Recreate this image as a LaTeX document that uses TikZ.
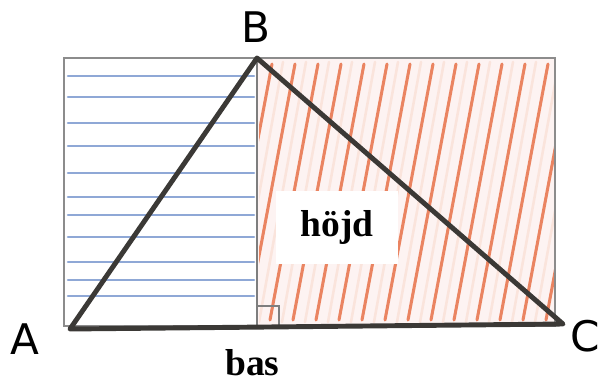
\documentclass[tikz,border=0pt]{standalone}
\usepackage{fontspec}
\setmainfont{Liberation Serif}
\newfontfamily\handfont{DejaVu Sans}
\usetikzlibrary{calc}
\definecolor{pencilgray}{HTML}{8C8C8C}
\definecolor{inkdark}{HTML}{3B3936}
\definecolor{hatchred}{HTML}{EA8461}
\definecolor{hatchblue}{HTML}{7392CC}
\definecolor{paperpink}{HTML}{FDF3F2}
\tikzset{
    side/.style={draw=inkdark, line width=4.2pt, line join=round},
    frame/.style={draw=pencilgray, line width=1.3pt},
    altitude/.style={draw=pencilgray!90!black, line width=2.4pt},
    redhatch/.style={draw=hatchred, line width=2.6pt, line cap=round},
    pinkhatch/.style={draw=hatchred!22, line width=2.2pt, line cap=round},
    bluehatch/.style={draw=hatchblue, line width=2.2pt, line cap=round, opacity=0.8},
    vertex/.style={font=\handfont\fontsize{36}{40}\selectfont, inner sep=0pt},
    word/.style={font=\bfseries\fontsize{32}{36}\selectfont, inner sep=0pt}
}
\begin{document}
\begin{tikzpicture}[x=0.03cm, y=-0.03cm]
    \useasboundingbox (0, 0) rectangle (609, 383);
    % corners of the rectangle and the triangle
    \coordinate (topleft) at (64, 58);
    \coordinate (botright) at (555, 326);
    \coordinate (A) at (70, 329);
    \coordinate (B) at (257, 58);
    \coordinate (C) at (563, 324);
    \coordinate (foot) at (257, 326);
    % right half: red hatching
    \fill[paperpink] (B) rectangle (botright);
    \begin{scope}
        \clip (259, 58) rectangle (botright);
        \foreach \x in {272, 295, ..., 640} {
            \draw[pinkhatch] (\x + 11, 62) -- (\x - 36, 322);
            \draw[redhatch] (\x, 64) -- (\x - 48, 320);
        }
    \end{scope}
    % left half: blue hatching
    \foreach \y in {76, 97, 123, 146, 173, 197, 215, 237, 262, 280, 296}
        \draw[bluehatch] (68, \y) -- (254, \y);
    \draw[frame] (topleft) rectangle (botright);
    \draw[altitude] (B) -- (foot);
    \draw[altitude, line width=1.8pt] ($(foot) + (0, -20)$) -| ($(foot) + (22, 0)$);
    \node (hojd) at (337, 227) [word, fill=white, minimum width=3.63cm, minimum height=2.19cm] {höjd};
    \draw[side] (A) -- (B) -- (C) -- cycle;
    \node (labelA) at (25, 339) [vertex] {A};
    \node (labelB) at (256, 27) [vertex] {B};
    \node (labelC) at (585, 336) [vertex] {C};
    \node (bas) at (225, 375) [word, anchor=base west] {bas};
\end{tikzpicture}
\end{document}
